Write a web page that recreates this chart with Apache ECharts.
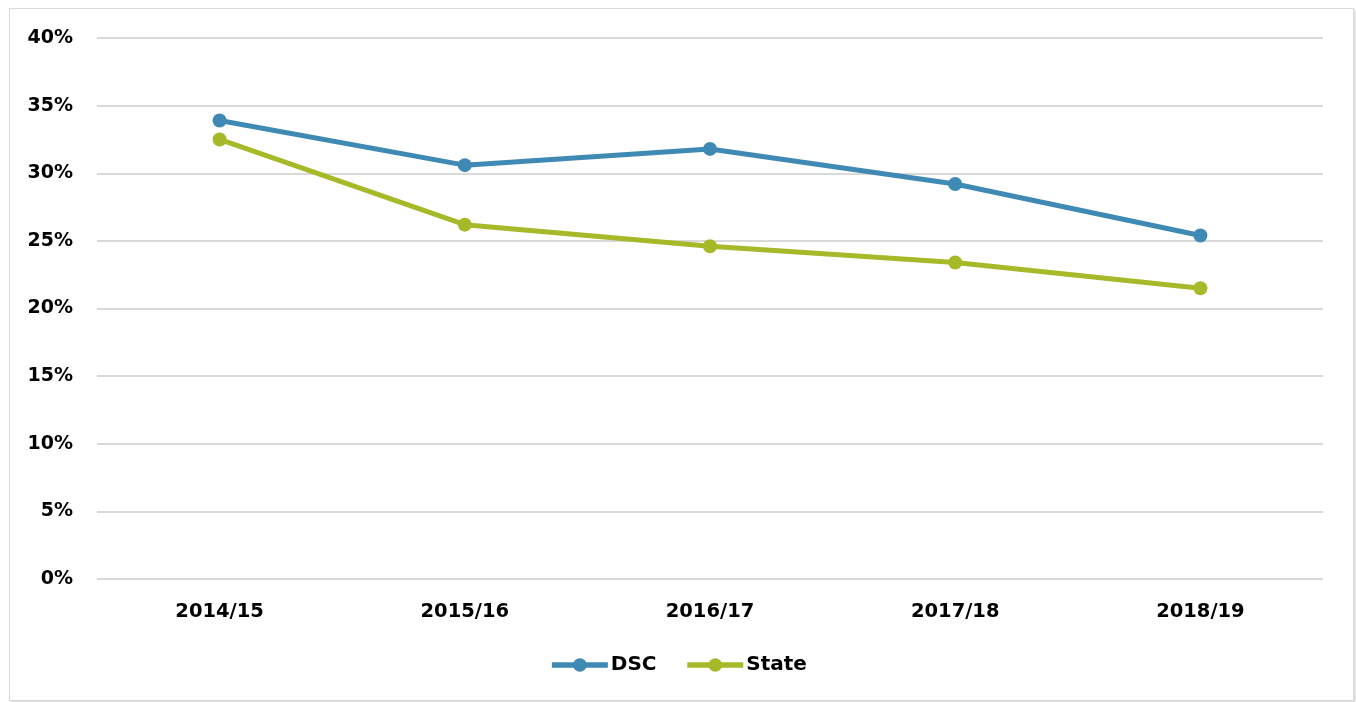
<!DOCTYPE html>
<html><head><meta charset="utf-8">
<script src="https://cdn.jsdelivr.net/npm/echarts@6/dist/echarts.min.js"></script>
<style>
html,body{margin:0;padding:0;background:#fff;}
#frame{position:absolute;left:9px;top:8px;width:1343px;height:691px;border:1px solid #d9d9d9;box-shadow:2px 2px 3px rgba(0,0,0,0.15);}
#c{position:absolute;left:0;top:0;width:1356px;height:702px;}
</style></head>
<body>
<div id="frame"></div>
<div id="c"></div>
<script>
const categories = ['2014/15','2015/16','2016/17','2017/18','2018/19'];
const dsc = [33.9, 30.6, 31.8, 29.2, 25.4];
const state = [32.5, 26.2, 24.6, 23.4, 21.5];
const font = '"DejaVu Sans", sans-serif';
const chart = echarts.init(document.getElementById('c'));
chart.setOption({
  animation:false,
  grid:{left:97,right:33,top:38,bottom:123,containLabel:false},
  legend:{top:650,left:'center',itemWidth:56,itemHeight:17,itemGap:28,
    lineStyle:{width:5.5},
    textStyle:{fontFamily:font,fontWeight:'bold',fontSize:20,color:'#000',padding:[0,0,0,-2]},
    data:['DSC','State']},
  xAxis:{type:'category',data:categories,boundaryGap:true,
    axisLine:{show:false},axisTick:{show:false},
    axisLabel:{margin:23,fontFamily:font,fontWeight:'bold',fontSize:19.5,color:'#000'}},
  yAxis:{type:'value',min:0,max:40,interval:5,
    axisLine:{show:false},axisTick:{show:false},
    splitLine:{lineStyle:{color:'#d9d9d9',width:2}},
    axisLabel:{margin:24,formatter:'{value}%',fontFamily:font,fontWeight:'bold',fontSize:19,color:'#000'}},
  series:[
    {name:'DSC',type:'line',data:dsc,symbol:'circle',symbolSize:14,
      lineStyle:{width:5,color:'#3F8AB5'},itemStyle:{color:'#3F8AB5'}},
    {name:'State',type:'line',data:state,symbol:'circle',symbolSize:14,
      lineStyle:{width:5,color:'#A6B929'},itemStyle:{color:'#A6B929'}}
  ]
});
</script>
</body></html>
